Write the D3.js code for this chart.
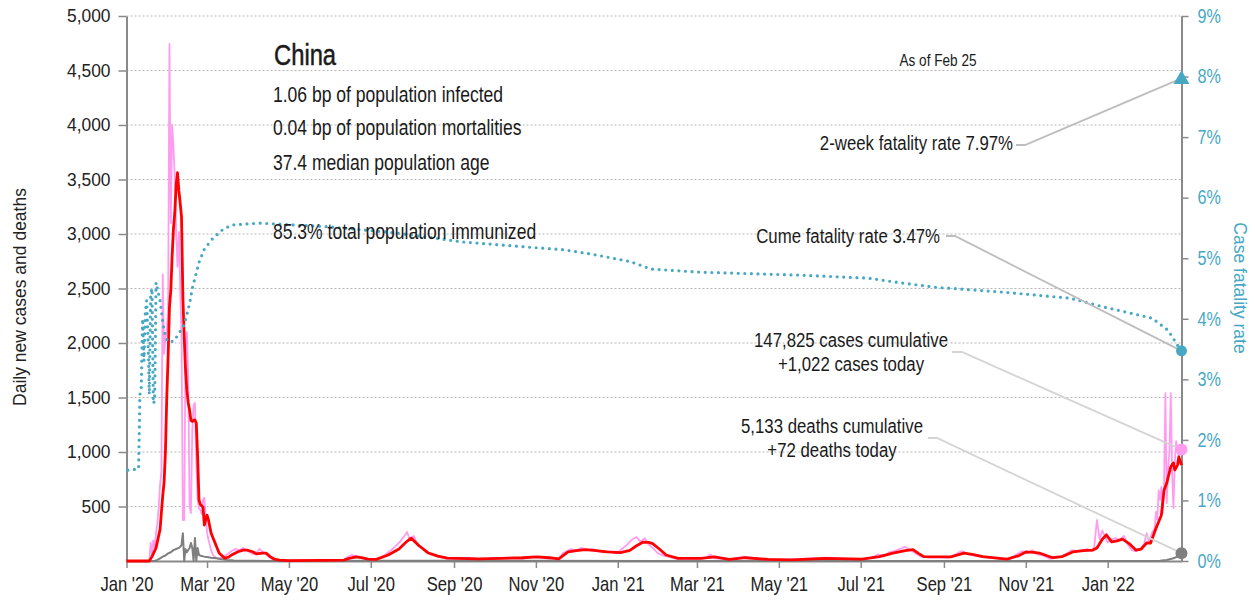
<!DOCTYPE html>
<html>
<head>
<meta charset="utf-8">
<script src="https://cdn.jsdelivr.net/npm/d3@7"></script>
<style>
  body { margin: 0; background: #fff; }
  svg { display: block; }
</style>
</head>
<body>
<svg id="chart" width="1255" height="602"></svg>
<script>
// data, days counted from 2020-01-01
var startDay = Date.UTC(2020, 0, 1);
var lastDay = 786; // Feb 25 2022

// daily new cases [day, cases]
var dailyCases = [
  [0,0],[16,0],[17,5],[18,165],[19,60],[20,190],[21,120],[22,260],[23,350],[24,500],[25,700],[26,820],
  [27,2630],[28,1900],[29,2050],[30,2100],[31,2300],[32,4743],[33,3100],[34,4000],[35,3800],[36,3500],
  [37,3020],[38,2700],[39,3020],[40,2500],[41,2050],[42,376],[43,376],[44,2000],[45,2100],[46,1650],
  [47,500],[48,440],[49,1200],[50,1430],[51,1450],[52,900],[53,560],[54,480],[55,470],[56,430],[57,560],
  [58,580],[59,400],[60,260],[61,200],[62,150],[63,100],[64,70],[65,45],[67,30],[69,20],[72,40],[75,60],
  [78,90],[81,110],[84,100],[87,120],[90,95],[93,70],[96,60],[99,110],[102,80],[105,50],[108,20],[112,10],
  [120,5],[135,8],[150,4],[162,10],[165,40],[168,55],[171,45],[174,30],[178,20],[184,12],[188,25],[192,50],
  [196,90],[200,130],[204,180],[207,230],[209,266],[211,200],[214,230],[217,140],[220,120],[223,80],[227,60],
  [232,40],[238,25],[245,20],[255,30],[265,15],[275,25],[285,30],[295,20],[302,40],[306,35],[312,25],
  [318,20],[322,15],[325,70],[328,90],[331,110],[335,95],[339,120],[343,100],[347,110],[351,90],[355,80],
  [360,85],[365,70],[369,110],[373,150],[377,200],[380,220],[383,175],[386,210],[389,150],[392,120],[396,70],
  [400,50],[405,35],[410,20],[418,25],[425,20],[432,30],[435,60],[438,25],[445,20],[452,15],[460,40],[465,30],
  [472,20],[480,15],[490,10],[500,15],[510,25],[520,30],[530,25],[540,20],[548,15],[555,30],[560,60],[565,45],
  [568,80],[572,90],[576,110],[580,130],[584,100],[588,70],[592,40],[598,30],[605,35],[612,30],[616,40],
  [620,80],[623,90],[627,60],[632,50],[638,35],[645,30],[652,15],[658,20],[663,60],[667,90],[671,70],[675,100],
  [679,60],[683,50],[688,20],[692,30],[697,40],[701,70],[704,100],[708,90],[712,100],[716,110],[719,90],
  [721,130],[723,376],[725,200],[727,280],[729,220],[731,170],[734,200],[737,210],[740,190],[743,230],
  [746,150],[749,100],[752,90],[755,110],[758,150],[760,255],[762,170],[764,260],[766,300],[767,450],
  [768,380],[769,650],[770,560],[771,680],[772,440],[773,700],[774,1540],[775,530],[776,850],[777,1000],
  [778,1540],[779,820],[780,485],[781,900],[782,1100],[783,1020],[784,950],[785,1050],[786,1022]
];

// 7-day average of cases [day, cases]
var avgCases = [
  [0,0],[17,0],[19,40],[22,120],[25,290],[27,600],[28,720],[29,1000],[30,1500],[31,1870],[32,2330],
  [33,2480],[34,2800],[35,3050],[36,3200],[37,3450],[38,3562],[39,3400],[40,3284],[41,3156],[42,2420],
  [43,2050],[44,1750],[45,1560],[46,1450],[47,1385],[48,1290],[49,1280],[50,1290],[51,1294],[52,1266],
  [53,960],[54,560],[55,520],[56,505],[57,495],[58,330],[59,380],[60,420],[61,380],[63,257],[66,165],
  [69,73],[73,27],[76,35],[79,60],[83,85],[87,100],[90,100],[94,85],[97,65],[101,73],[104,73],[107,40],
  [110,18],[114,8],[121,3],[144,5],[162,8],[166,25],[171,37],[175,30],[180,18],[186,15],[195,55],[203,110],
  [208,170],[212,210],[218,140],[225,73],[232,45],[239,27],[262,20],[279,25],[295,30],[306,37],[315,30],
  [322,20],[329,83],[335,95],[342,104],[350,95],[358,83],[368,77],[375,98],[380,140],[385,174],[389,170],
  [392,160],[397,110],[402,55],[411,25],[428,25],[438,37],[449,15],[461,30],[478,15],[495,10],[521,25],
  [548,18],[561,40],[571,73],[580,95],[586,104],[590,70],[594,40],[614,37],[624,73],[630,60],[638,40],
  [656,18],[665,50],[670,83],[676,80],[680,73],[690,30],[697,40],[705,83],[713,95],[720,100],[723,120],
  [727,200],[730,240],[734,176],[738,185],[742,200],[747,160],[752,100],[756,110],[760,165],[763,165],
  [767,300],[771,420],[773,650],[775,715],[778,865],[780,900],[781,835],[783,880],[784,955],[786,880]
];

// daily deaths [day, deaths]
var dailyDeaths = [
  [0,0],[21,0],[23,10],[25,25],[27,40],[29,50],[31,70],[33,80],[35,100],[37,110],[39,120],[40,130],
  [41,147],[42,255],[43,0],[44,110],[45,80],[46,100],[47,120],[48,165],[49,120],[50,0],[51,210],[52,0],
  [53,120],[54,55],[56,45],[58,40],[60,37],[63,30],[67,25],[70,18],[75,10],[80,5],[90,3],[105,1],[200,2],
  [400,1],[600,1],[760,0],[770,2],[775,10],[780,25],[783,40],[786,72]
];

// cumulative case fatality rate [day, %]
var fatalityRate = [
  [1,1.50],[9,1.52],[10,2.75],[11,2.85],[12,4.00],[13,3.30],[14,4.10],[15,4.30],[16,3.70],[17,2.75],
  [18,4.40],[19,4.50],[20,2.60],[21,2.65],[22,4.60],[23,4.50],[25,4.30],[27,3.95],[29,3.70],[31,3.62],
  [35,3.63],[38,3.72],[43,3.90],[47,4.25],[49,4.50],[54,4.93],[58,5.15],[64,5.32],[72,5.48],[79,5.55],
  [99,5.58],[150,5.52],[200,5.42],[250,5.27],[301,5.18],[326,5.14],[351,5.05],[376,4.94],[391,4.82],
  [427,4.77],[502,4.72],[553,4.67],[578,4.59],[603,4.52],[653,4.44],[703,4.34],[729,4.19],[764,4.01],
  [776,3.81],[784,3.53],[786,3.47]
];

var leftTicks = [500,1000,1500,2000,2500,3000,3500,4000,4500,5000];
var rightTicks = [0,1,2,3,4,5,6,7,8,9];

var statLines = [
  "1.06 bp of population infected",
  "0.04 bp of population mortalities",
  "37.4 median population age",
  "85.3% total population immunized"
];
var twoWeekRate = 7.97, cumeRate = 3.47, casesToday = 1022, deathsToday = 72;

// ----------------------------------------------------------------
var SANS = "'Liberation Sans', Arial, sans-serif";
var TEAL = "#47a8c4", PINK = "#ff9cf0", RED = "#ff0000", GRAY = "#7f7f7f";

var toDate = function(d) { return new Date(startDay + d * 864e5); };

var svg = d3.select("#chart");
var plotL = 126.5, plotR = 1181.5, plotT = 16, plotB = 561;

var x = d3.scaleUtc().domain([toDate(0), toDate(lastDay)]).range([plotL, plotR]);
var y = d3.scaleLinear().domain([0, 5000]).range([plotB, plotT]);
var yR = d3.scaleLinear().domain([0, 9]).range([plotB, plotT]);

// condensed text: Liberation Sans squeezed horizontally
function narrowText(parent, px, py, size, squeeze, anchor, str) {
  return parent.append("g").attr("transform", "translate(" + px + "," + py + ") scale(" + squeeze + ",1)")
    .append("text").attr("text-anchor", anchor).attr("font-family", SANS)
    .attr("font-size", size).attr("fill", "#1a1a1a").text(str);
}

// grid
svg.append("g").selectAll("line").data(leftTicks).enter().append("line")
  .attr("x1", plotL).attr("x2", plotR)
  .attr("y1", function(d){ return y(d); }).attr("y2", function(d){ return y(d); })
  .attr("stroke", "#b8b8b8").attr("stroke-width", 1.2).attr("stroke-dasharray", "2,2");

// axes
var gL = svg.append("g").attr("transform", "translate(" + plotL + ",0)")
  .call(d3.axisLeft(y).tickValues(leftTicks).tickSize(8).tickSizeOuter(0).tickPadding(8).tickFormat(d3.format(",")));
var gR = svg.append("g").attr("transform", "translate(" + plotR + ",0)")
  .call(d3.axisRight(yR).tickValues(rightTicks).tickSize(7).tickSizeOuter(0).tickPadding(9).tickFormat(function(d){ return d + "%"; }));
var gB = svg.append("g").attr("transform", "translate(0," + plotB + ")")
  .call(d3.axisBottom(x).ticks(d3.utcMonth.every(2)).tickSize(7).tickSizeOuter(0).tickPadding(9).tickFormat(d3.utcFormat("%b '%y")));

[gL, gR, gB].forEach(function(g){
  g.select(".domain").attr("stroke", "#8a8a8a").attr("stroke-width", 2);
  g.selectAll(".tick line").attr("stroke", "#8a8a8a").attr("stroke-width", 1.5);
  g.selectAll(".tick text").attr("font-family", SANS).attr("font-size", 17.5).attr("fill", "#222");
});
gL.selectAll(".tick text").attr("font-size", 18.5).attr("x", -16 / 0.94).attr("transform", "scale(0.94,1)");
gR.selectAll(".tick text").attr("fill", TEAL).attr("font-size", 19.5)
  .attr("x", 16 / 0.83).attr("transform", "scale(0.83,1)");
gB.selectAll(".tick text").attr("font-size", 20).attr("transform", "scale(0.83,1)");

// axis titles
svg.append("text").attr("transform", "translate(26,297) rotate(-90)")
  .attr("text-anchor", "middle").attr("font-family", SANS).attr("font-size", 17.5).attr("fill", "#222")
  .text("Daily new cases and deaths");
svg.append("text").attr("transform", "translate(1234,288) rotate(90)")
  .attr("text-anchor", "middle").attr("font-family", SANS).attr("font-size", 17.5).attr("fill", TEAL)
  .text("Case fatality rate");

// series
var lineL = d3.line().x(function(d){ return x(toDate(d[0])); }).y(function(d){ return y(d[1]); });
var lineR = d3.line().x(function(d){ return x(toDate(d[0])); }).y(function(d){ return yR(d[1]); });

svg.append("path").datum(dailyCases).attr("d", lineL)
  .attr("fill", "none").attr("stroke", PINK).attr("stroke-width", 1.8).attr("stroke-linejoin", "round");
svg.append("path").datum(dailyDeaths).attr("d", lineL)
  .attr("fill", "none").attr("stroke", GRAY).attr("stroke-width", 2).attr("stroke-linejoin", "round");
svg.append("path").datum(avgCases).attr("d", lineL)
  .attr("fill", "none").attr("stroke", RED).attr("stroke-width", 2.8).attr("stroke-linejoin", "round");
svg.append("path").datum(fatalityRate).attr("d", lineR)
  .attr("fill", "none").attr("stroke", TEAL).attr("stroke-width", 3.2)
  .attr("stroke-linecap", "round").attr("stroke-dasharray", "0,6.6");

// annotation text
narrowText(svg, 274, 65, 29, 0.82, "start", "China").attr("stroke", "#1a1a1a").attr("stroke-width", 0.5);
var statY = [102, 135, 170, 239];
statLines.forEach(function(s, i){ narrowText(svg, 273, statY[i], 22.5, 0.78, "start", s); });
narrowText(svg, 938, 66, 17, 0.8, "middle", "As of Feb 25");

var endX = x(toDate(lastDay));
var notes = [
  { lines: ["2-week fatality rate " + twoWeekRate + "%"], tx: 1013, ty: 150, anchor: "end",
    from: [1016, 145], elbow: [1025, 145], to: yR(twoWeekRate), stroke: "#bdbdbd" },
  { lines: ["Cume fatality rate " + cumeRate + "%"], tx: 940, ty: 243, anchor: "end",
    from: [946, 236], elbow: [955, 236], to: yR(cumeRate), stroke: "#bdbdbd" },
  { lines: ["147,825 cases cumulative", "+" + d3.format(",")(casesToday) + " cases today"], tx: 851, ty: 347, anchor: "middle",
    from: [952, 352], elbow: [962, 352], to: y(casesToday), stroke: "#d4d4d4" },
  { lines: ["5,133 deaths cumulative", "+" + deathsToday + " deaths today"], tx: 832, ty: 433, anchor: "middle",
    from: [928, 438], elbow: [937, 438], to: y(deathsToday), stroke: "#d4d4d4" }
];
notes.forEach(function(n){
  svg.append("polyline")
    .attr("points", [n.from, n.elbow, [endX, n.to]].map(function(p){ return p.join(","); }).join(" "))
    .attr("fill", "none").attr("stroke", n.stroke).attr("stroke-width", 1.8);
  n.lines.forEach(function(t, i){ narrowText(svg, n.tx, n.ty + i * 23.5, 21, 0.8, n.anchor, t); });
});

// end markers
svg.append("path").attr("d", d3.symbol(d3.symbolTriangle, 110)())
  .attr("transform", "translate(" + endX + "," + (yR(twoWeekRate) + 1) + ")").attr("fill", TEAL);
svg.append("circle").attr("cx", endX).attr("cy", yR(cumeRate)).attr("r", 5.5).attr("fill", TEAL);
svg.append("circle").attr("cx", endX).attr("cy", y(casesToday)).attr("r", 6).attr("fill", PINK);
svg.append("circle").attr("cx", endX).attr("cy", y(deathsToday)).attr("r", 6).attr("fill", GRAY);
</script>
</body>
</html>
